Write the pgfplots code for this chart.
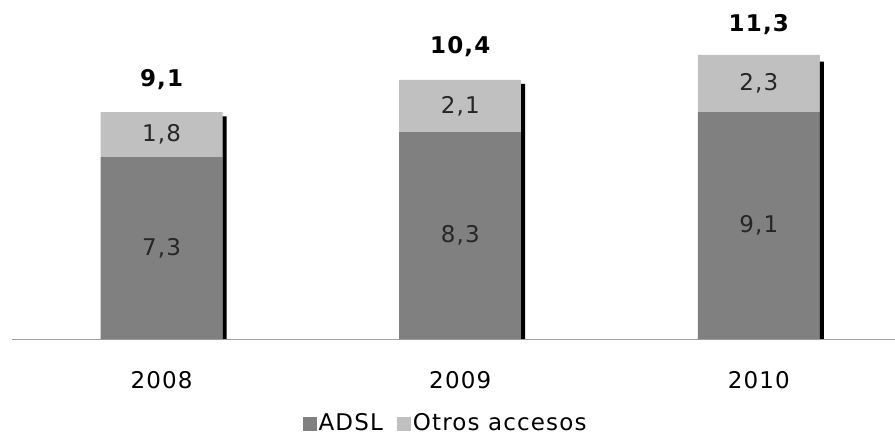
\documentclass[border=0pt]{standalone}
\usepackage{pgfplots}
\pgfplotsset{compat=1.18}
\usepackage{fontspec}
\setmainfont{DejaVu Sans}[LetterSpace=5.0]
\definecolor{adsl}{HTML}{808080}
\definecolor{otros}{HTML}{C0C0C0}
\definecolor{baseln}{HTML}{A0A0A0}
\pgfplotsset{
  base/.style={
    at={(12bp,98bp)}, anchor=south west,
    scale only axis, width=883bp, height=329bp,
    xmin=-0.501, xmax=2.456, ymin=0, ymax=13.2,
    clip=false,
  },
  /pgf/number format/.cd, use comma, fixed, fixed zerofill, precision=1, assume math mode=true,
}
\begin{document}
\fontsize{23bp}{27bp}\selectfont
\begin{tikzpicture}
\path[use as bounding box] (0,0) rectangle (895bp,437bp);
\begin{axis}[base, ybar stacked, bar width=122bp,
  axis x line*=bottom, axis y line=none,
  x axis line style={baseln, line width=1bp, -},
  xtick={0,1,2}, xticklabels={2008,2009,2010}, xtick style={draw=none},
  xticklabel style={anchor=base, yshift=-49bp}, ytick=\empty,
  legend style={at={(0.491,-0.258)}, anchor=center, draw=none, fill=none,
    legend columns=-1, nodes={inner xsep=2bp, inner ysep=1bp},
    /tikz/every even column/.append style={column sep=12bp}},
]
\addplot[fill=adsl, draw=none, legend image code/.code={\fill[adsl] (0bp,-7bp) rectangle (14bp,7bp);}]
  coordinates {(0,7.3) (1,8.3) (2,9.1)};
\addplot[fill=otros, draw=none, legend image code/.code={\fill[otros] (0bp,-7bp) rectangle (14bp,7bp);}]
  coordinates {(0,1.8) (1,2.1) (2,2.3)};
\legend{ADSL, Otros accesos}
\end{axis}
\begin{axis}[base, hide axis]
\addplot[ybar, bar width=4bp, bar shift=63bp, fill=black, draw=none]
  coordinates {(0,8.93) (1,10.24) (2,11.13)};
% segment labels at segment midpoints
\addplot[draw=none, mark=none, nodes near coords, point meta=explicit,
  every node near coord/.append style={anchor=center, text=black!85}]
  coordinates {(0,3.65)[7.3] (1,4.15)[8.3] (2,4.55)[9.1]};
\addplot[draw=none, mark=none, nodes near coords, point meta=explicit,
  every node near coord/.append style={anchor=center, text=black!85}]
  coordinates {(0,8.2)[1.8] (1,9.35)[2.1] (2,10.25)[2.3]};
% totals
\addplot[draw=none, mark=none, nodes near coords, point meta=explicit,
  every node near coord/.append style={anchor=center, yshift=33bp, font=\bfseries}]
  coordinates {(0,9.1)[9.1] (1,10.4)[10.4] (2,11.3)[11.3]};
\end{axis}
\end{tikzpicture}
\end{document}
